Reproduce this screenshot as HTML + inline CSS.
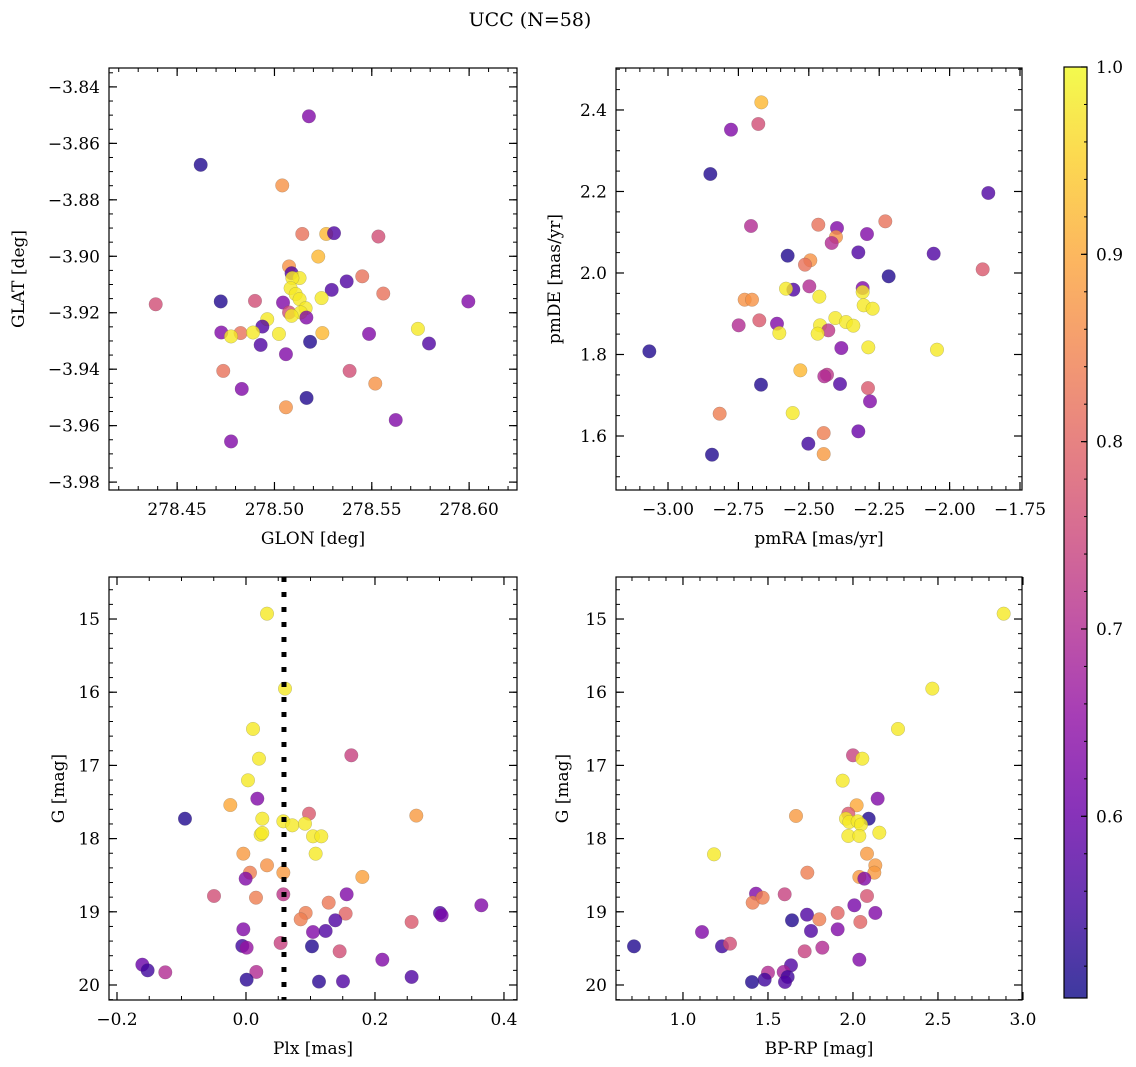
<!DOCTYPE html>
<html><head><meta charset="utf-8"><style>
html,body{margin:0;padding:0;background:#fff;}
svg{display:block;font-family:"DejaVu Serif","Liberation Serif",serif;}
</style></head><body>
<svg id="fig" width="1136" height="1067" viewBox="0 0 1136 1067" xmlns="http://www.w3.org/2000/svg">
<rect width="1136" height="1067" fill="#fff"/>
<text x="530" y="26" font-size="19" text-anchor="middle">UCC (N=58)</text>
<defs><linearGradient id="plasma" x1="0" y1="1" x2="0" y2="0"></linearGradient></defs>
</svg>
<script>
// ---- Panel 1: GLON vs GLAT ----
const p1_glon=[278.5177,278.4621,278.5040,278.5143,278.5266,278.5306,278.5534,278.5225,278.5075,278.5088,278.5129,278.5092,278.5451,278.5371,278.5294,278.5083,278.5559,278.5109,278.5242,278.5129,278.5996,278.4390,278.4724,278.4900,278.5044,278.5160,278.5075,278.5135,278.5088,278.5164,278.4963,278.4938,278.5737,278.4727,278.4826,278.4777,278.4890,278.5023,278.5246,278.5486,278.4929,278.5183,278.5794,278.5059,278.4737,278.5386,278.5518,278.4832,278.5165,278.5059,278.5623,278.4777];
const p1_glat=[-3.8504,-3.8676,-3.8749,-3.8921,-3.8921,-3.8918,-3.8930,-3.9001,-3.9036,-3.9060,-3.9077,-3.9077,-3.9071,-3.9089,-3.9119,-3.9113,-3.9132,-3.9134,-3.9148,-3.9152,-3.9160,-3.9170,-3.9160,-3.9158,-3.9164,-3.9184,-3.9199,-3.9199,-3.9211,-3.9217,-3.9223,-3.9249,-3.9257,-3.9270,-3.9272,-3.9284,-3.9270,-3.9275,-3.9272,-3.9275,-3.9314,-3.9303,-3.9309,-3.9347,-3.9406,-3.9406,-3.9451,-3.9470,-3.9502,-3.9535,-3.9580,-3.9656];
const p1_prob=[0.63,0.52,0.87,0.82,0.92,0.57,0.76,0.92,0.87,0.57,0.98,0.98,0.82,0.57,0.57,0.98,0.82,0.98,0.98,0.98,0.63,0.76,0.52,0.76,0.63,0.98,0.76,0.98,0.98,0.63,0.98,0.57,0.98,0.63,0.82,0.98,0.98,0.98,0.92,0.63,0.57,0.52,0.57,0.63,0.82,0.76,0.87,0.63,0.52,0.87,0.63,0.63];
// ---- Panel 2: pmRA vs pmDE ----
const p2_pmra=[-2.6686,-2.6793,-2.7763,-2.8497,-1.8625,-2.7053,-2.4662,-2.3999,-2.2283,-2.2934,-2.4035,-2.4188,-2.5751,-2.3241,-2.0566,-2.4946,-2.5136,-1.8826,-2.2164,-2.4981,-2.5550,-2.5810,-2.3088,-2.3088,-2.4626,-2.7278,-2.7017,-2.3052,-2.2733,-2.6757,-2.7491,-2.6130,-2.4058,-2.3680,-2.3419,-2.4603,-2.4307,-2.6047,-2.4686,-2.3845,-2.2887,-2.0448,-3.0663,-2.5301,-2.4354,-2.4449,-2.6698,-2.3892,-2.2898,-2.2827,-2.8166,-2.5573,-2.4472,-2.3241,-2.5017,-2.8438,-2.4472];
const p2_pmde=[2.4187,2.3656,2.3517,2.2429,2.1963,2.1153,2.1185,2.1104,2.1267,2.0956,2.0883,2.0736,2.0425,2.0506,2.0474,2.0310,2.0204,2.0089,1.9918,1.9672,1.9591,1.9615,1.9631,1.9533,1.9419,1.9345,1.9345,1.9206,1.9124,1.8838,1.8715,1.8756,1.8895,1.8797,1.8707,1.8715,1.8592,1.8527,1.8511,1.8159,1.8175,1.8118,1.8077,1.7611,1.7504,1.7464,1.7259,1.7276,1.7177,1.6850,1.6547,1.6564,1.6073,1.6114,1.5811,1.5541,1.5558];
const p2_prob=[0.92,0.76,0.63,0.52,0.57,0.70,0.82,0.63,0.82,0.63,0.87,0.70,0.52,0.57,0.57,0.87,0.82,0.78,0.52,0.70,0.57,0.98,0.63,0.98,0.98,0.87,0.87,0.98,0.98,0.78,0.70,0.63,0.98,0.98,0.98,0.98,0.72,0.98,0.98,0.63,0.98,0.98,0.52,0.92,0.72,0.70,0.52,0.57,0.78,0.63,0.84,0.98,0.84,0.60,0.55,0.52,0.88];
// ---- Panel 3: Plx vs G ----
const p3_plx=[0.0326,0.0605,0.0109,0.0202,0.1633,0.0031,0.0176,-0.0243,-0.0946,0.0977,0.2641,0.0253,0.0579,0.0718,0.0915,0.0227,0.0253,0.1039,0.1168,0.1080,-0.0041,0.0326,0.0062,0.0579,-0.0005,0.1804,-0.0496,0.0155,0.0579,0.1561,0.1282,0.0925,0.0848,0.1545,0.3008,0.3034,0.3649,0.2568,0.1385,-0.0041,0.1039,0.1235,-0.0057,0.0010,0.0537,0.1023,0.1452,0.2114,-0.1607,-0.1525,-0.1251,0.0160,0.0010,0.1132,0.1504,0.2568];
const p3_g=[14.927,15.951,16.502,16.908,16.862,17.204,17.454,17.541,17.728,17.659,17.686,17.728,17.764,17.819,17.796,17.946,17.923,17.969,17.969,18.206,18.206,18.365,18.465,18.465,18.547,18.524,18.784,18.807,18.761,18.761,18.875,19.016,19.103,19.025,19.016,19.048,18.911,19.139,19.116,19.239,19.276,19.262,19.467,19.490,19.426,19.472,19.540,19.654,19.722,19.800,19.827,19.822,19.927,19.954,19.950,19.890];
const p3_prob=[0.98,0.98,0.98,0.98,0.74,0.98,0.63,0.90,0.52,0.78,0.88,0.98,0.98,0.98,0.98,0.98,0.98,0.98,0.98,0.98,0.88,0.87,0.84,0.88,0.63,0.89,0.76,0.84,0.72,0.63,0.83,0.84,0.84,0.80,0.57,0.62,0.63,0.78,0.57,0.63,0.63,0.57,0.55,0.66,0.74,0.52,0.76,0.63,0.60,0.55,0.70,0.70,0.53,0.53,0.57,0.57];
const plxLine=0.0589;
// ---- Panel 4: BP-RP vs G ----
const p4_bprp=[2.8864,2.4668,2.2649,2.0001,2.0550,1.9393,2.1452,2.0217,1.6648,1.9727,1.9589,2.0923,1.9785,2.0276,2.0472,2.1550,1.9727,2.0374,1.1825,2.0825,2.1315,2.1256,1.7315,2.0374,2.0668,1.4296,1.4099,1.4688,1.5982,2.0825,2.0080,1.9099,2.1315,1.7296,1.8021,1.6413,2.0433,1.1119,1.7531,1.9099,0.7119,1.2295,1.2766,1.7158,1.8197,2.0374,1.6354,1.5001,1.5923,1.6158,1.4805,1.4060,1.6001];
const p4_g=[14.927,15.951,16.502,16.862,16.908,17.208,17.454,17.545,17.691,17.659,17.728,17.728,17.773,17.764,17.809,17.919,17.964,17.964,18.215,18.206,18.365,18.465,18.465,18.524,18.547,18.752,18.875,18.807,18.761,18.784,18.911,19.016,19.016,19.039,19.103,19.116,19.139,19.276,19.262,19.239,19.472,19.472,19.435,19.540,19.490,19.654,19.731,19.832,19.822,19.890,19.927,19.959,19.959];
const p4_prob=[0.98,0.98,0.98,0.74,0.98,0.98,0.63,0.90,0.88,0.78,0.98,0.52,0.98,0.98,0.98,0.98,0.98,0.98,0.98,0.88,0.88,0.88,0.84,0.88,0.63,0.63,0.84,0.84,0.74,0.77,0.62,0.80,0.63,0.57,0.84,0.52,0.80,0.63,0.57,0.63,0.52,0.55,0.76,0.74,0.70,0.63,0.57,0.70,0.68,0.55,0.55,0.52,0.57];
// tick arrays
const p1_xticks=[278.45,278.50,278.55,278.60];
const p1_yticks=[-3.84,-3.86,-3.88,-3.90,-3.92,-3.94,-3.96,-3.98];
const p2_xticks=[-3.00,-2.75,-2.50,-2.25,-2.00,-1.75];
const p2_yticks=[2.4,2.2,2.0,1.8,1.6];
const p3_xticks=[-0.2,0.0,0.2,0.4];
const g_yticks=[15,16,17,18,19,20];
const p4_xticks=[1.0,1.5,2.0,2.5,3.0];
const cb_ticks=[0.6,0.7,0.8,0.9,1.0];
const cbMin=0.503, cbMax=1.0;

const NS="http://www.w3.org/2000/svg";
const svg=document.getElementById('fig');
function mk(tag,attrs,parent){const e=document.createElementNS(NS,tag);for(const k in attrs)e.setAttribute(k,attrs[k]);(parent||svg).appendChild(e);return e;}
const plasmaStops=[[0,13,8,135],[0.1,65,4,157],[0.2,106,0,168],[0.3,143,13,164],[0.4,177,42,144],[0.5,204,71,120],[0.6,225,100,98],[0.7,242,132,75],[0.8,252,166,54],[0.9,252,206,37],[1,240,249,33]];
function plasma(t){t=Math.max(0,Math.min(1,t));for(let i=1;i<plasmaStops.length;i++){const a=plasmaStops[i-1],b=plasmaStops[i];if(t<=b[0]){const f=(t-a[0])/(b[0]-a[0]);return `rgb(${Math.round(a[1]+f*(b[1]-a[1]))},${Math.round(a[2]+f*(b[2]-a[2]))},${Math.round(a[3]+f*(b[3]-a[3]))})`;}}}
function pcol(p){return plasma((p-cbMin)/(cbMax-cbMin));}
const grad=svg.querySelector('#plasma');
for(let i=0;i<=10;i++){mk('stop',{offset:i/10,'stop-color':plasma(i/10),'stop-opacity':0.8},grad);}
function fmt(v,d){const s=v.toFixed(d);return v<0?'\u2212'+s.slice(1):s;}

function panel(o){
  const g=mk('g',{});
  
  
  const sx=v=>o.x0+(v-o.xmin)/(o.xmax-o.xmin)*(o.x1-o.x0);
  const sy=o.yinv?(v=>o.y0+(v-o.ymin)/(o.ymax-o.ymin)*(o.y1-o.y0)):(v=>o.y1-(v-o.ymin)/(o.ymax-o.ymin)*(o.y1-o.y0));
  const pg=mk('g',{},g);
  
  
  for(let i=0;i<o.xs.length;i++){
    const c=mk('circle',{cx:sx(o.xs[i]),cy:sy(o.ys[i]),r:6.8,fill:pcol(o.ps[i]),'fill-opacity':0.8,stroke:'#555','stroke-width':0.3,'stroke-opacity':0.6},pg);
    
    
  }
  if(o.vline!==undefined){
    const l=mk('line',{x1:sx(o.vline),x2:sx(o.vline),y1:o.y0,y2:o.y1,stroke:'#000','stroke-width':5,'stroke-dasharray':'5 10'},g);
    
    
  }
  const fr=mk('rect',{x:o.x0,y:o.y0,width:o.x1-o.x0,height:o.y1-o.y0,fill:'none',stroke:'#000','stroke-width':1.2},g);
  
  
  const eps=1e-9;
  for(let v=Math.ceil(o.xmin/o.xminor-eps)*o.xminor;v<=o.xmax+eps;v+=o.xminor){const X=sx(v);mk('line',{x1:X,x2:X,y1:o.y1,y2:o.y1-4,stroke:'#000','stroke-width':1},g);mk('line',{x1:X,x2:X,y1:o.y0,y2:o.y0+4,stroke:'#000','stroke-width':1},g);}
  const ylo=Math.min(o.ymin,o.ymax),yhi=Math.max(o.ymin,o.ymax);
  for(let v=Math.ceil(ylo/o.yminor-eps)*o.yminor;v<=yhi+eps;v+=o.yminor){const Y=sy(v);mk('line',{x1:o.x0,x2:o.x0+4,y1:Y,y2:Y,stroke:'#000','stroke-width':1},g);mk('line',{x1:o.x1,x2:o.x1-4,y1:Y,y2:Y,stroke:'#000','stroke-width':1},g);}
  o.xt.forEach(v=>{const X=sx(v);mk('line',{x1:X,x2:X,y1:o.y1,y2:o.y1-8,stroke:'#000','stroke-width':1.2},g);mk('line',{x1:X,x2:X,y1:o.y0,y2:o.y0+8,stroke:'#000','stroke-width':1.2},g);
    const t=mk('text',{x:X,y:o.y1+25,'font-size':17,'text-anchor':'middle'},g);t.textContent=fmt(v,o.xd);
    
    });
  o.yt.forEach(v=>{const Y=sy(v);mk('line',{x1:o.x0,x2:o.x0+8,y1:Y,y2:Y,stroke:'#000','stroke-width':1.2},g);mk('line',{x1:o.x1,x2:o.x1-8,y1:Y,y2:Y,stroke:'#000','stroke-width':1.2},g);
    const t=mk('text',{x:o.x0-9,y:Y+6,'font-size':17,'text-anchor':'end'},g);t.textContent=fmt(v,o.yd);
    
    });
  const xl=mk('text',{x:(o.x0+o.x1)/2,y:o.y1+54,'font-size':17,'text-anchor':'middle'},g);xl.textContent=o.xlabel;
  
  
  const yl=mk('text',{x:o.ylx,y:(o.y0+o.y1)/2,'font-size':17,'text-anchor':'middle',transform:`rotate(-90 ${o.ylx} ${(o.y0+o.y1)/2})`},g);yl.textContent=o.ylabel;
  
  
}
panel({name:'glon-glat-panel',x0:109,x1:517,y0:68,y1:490,xmin:278.415,xmax:278.6246,ymin:-3.9828,ymax:-3.8333,xs:p1_glon,ys:p1_glat,ps:p1_prob,xt:p1_xticks,yt:p1_yticks,xminor:0.01,yminor:0.005,xd:2,yd:2,xlabel:'GLON [deg]',ylabel:'GLAT [deg]',ylx:24});
panel({name:'pm-panel',x0:616,x1:1022,y0:68,y1:490,xmin:-3.1847,xmax:-1.7429,ymin:1.4675,ymax:2.503,xs:p2_pmra,ys:p2_pmde,ps:p2_prob,xt:p2_xticks,yt:p2_yticks,xminor:0.05,yminor:0.05,xd:2,yd:1,xlabel:'pmRA [mas/yr]',ylabel:'pmDE [mas/yr]',ylx:560});
panel({name:'plx-g-panel',x0:109,x1:517,y0:577,y1:1000,xmin:-0.2124,xmax:0.4202,ymin:14.426,ymax:20.205,yinv:true,xs:p3_plx,ys:p3_g,ps:p3_prob,xt:p3_xticks,yt:g_yticks,xminor:0.05,yminor:0.2,xd:1,yd:0,xlabel:'Plx [mas]',ylabel:'G [mag]',ylx:64,vline:plxLine});
panel({name:'cmd-panel',x0:616,x1:1022,y0:577,y1:1000,xmin:0.606,xmax:2.9943,ymin:14.426,ymax:20.205,yinv:true,xs:p4_bprp,ys:p4_g,ps:p4_prob,xt:p4_xticks,yt:g_yticks,xminor:0.1,yminor:0.2,xd:1,yd:0,xlabel:'BP-RP [mag]',ylabel:'G [mag]',ylx:568});
const cb=mk('g',{});


const cy0=67,cy1=998,cx0=1064,cx1=1087;
const cyS=v=>cy1-(v-cbMin)/(cbMax-cbMin)*(cy1-cy0);
mk('rect',{x:cx0,y:cy0,width:cx1-cx0,height:cy1-cy0,fill:'url(#plasma)',stroke:'#000','stroke-width':1.2},cb);
for(let v=0.52;v<=1.0001;v+=0.02){const Y=cyS(v);mk('line',{x1:cx1,x2:cx1-3,y1:Y,y2:Y,stroke:'#000','stroke-width':1},cb);}
cb_ticks.forEach(v=>{const Y=cyS(v);mk('line',{x1:cx1,x2:cx1-6,y1:Y,y2:Y,stroke:'#000','stroke-width':1.2},cb);
  const t=mk('text',{x:cx1+9,y:Y+6,'font-size':17},cb);t.textContent=v.toFixed(1);
  
  });
</script>
</body></html>
